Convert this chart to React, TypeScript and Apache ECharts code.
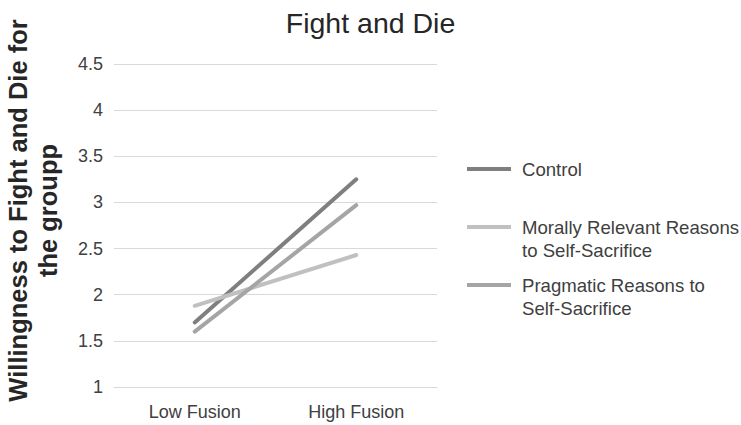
import React, { useEffect, useRef } from "react";
import * as echarts from "echarts";

const categories = ["Low Fusion", "High Fusion"];
const seriesNames = [
  "Control",
  "Morally Relevant Reasons to Self-Sacrifice",
  "Pragmatic Reasons to Self-Sacrifice",
];
const legendLabels = [
  "Control",
  "\nMorally Relevant Reasons\nto Self-Sacrifice",
  "\nPragmatic Reasons to\nSelf-Sacrifice",
];
const controlValues = [1.7, 3.25];
const moralValues = [1.88, 2.43];
const pragmaticValues = [1.6, 2.97];
const yMin = 1;
const yMax = 4.5;
const yStep = 0.5;
const seriesColors = ["#7f7f7f", "#c0c0c0", "#a5a5a5"];
const titleText = "Fight and Die";
const yAxisTitle = "Willingness to Fight and Die for\nthe groupp";

const FONT = '"Liberation Sans", Arial, sans-serif';

export default function App() {
  const ref = useRef<HTMLDivElement>(null);
  useEffect(() => {
    if (!ref.current) return;
    const chart = echarts.init(ref.current, undefined, { renderer: "svg" });
    const values = [controlValues, moralValues, pragmaticValues];
    const legendTops = [157.5, 192.5, 250.5];
    const legends = seriesNames.map((name, i) => ({
      data: [name],
      left: 467,
      top: legendTops[i],
      orient: "vertical",
      padding: 0,
      icon: "rect",
      itemWidth: 44,
      itemHeight: 4,
      selectedMode: false,
      formatter: () => legendLabels[i],
      textStyle: {
        fontFamily: FONT,
        fontSize: 18.6,
        color: "#404040",
        lineHeight: 23,
        padding: [0, 0, 0, 6],
      },
    }));
    chart.setOption({
      animation: false,
      backgroundColor: "#ffffff",
      title: {
        text: titleText,
        left: "center",
        top: 3,
        textStyle: { fontFamily: FONT, fontSize: 28.5, fontWeight: "normal", color: "#262626" },
      },
      legend: legends,
      grid: { left: 114, right: 304, top: 64, bottom: 38, outerBoundsMode: "none", containLabel: false },
      xAxis: {
        type: "category",
        data: categories,
        boundaryGap: true,
        axisLine: { show: true, lineStyle: { color: "#d9d9d9", width: 1 } },
        axisTick: { show: false },
        axisLabel: { fontFamily: FONT, fontSize: 18, color: "#404040", margin: 16 },
        splitLine: { show: false },
      },
      yAxis: {
        type: "value",
        min: yMin,
        max: yMax,
        interval: yStep,
        axisLine: { show: false },
        axisTick: { show: false },
        axisLabel: { fontFamily: FONT, fontSize: 18, color: "#404040", margin: 11 },
        splitLine: { show: true, lineStyle: { color: "#d9d9d9", width: 1 } },
        name: yAxisTitle,
        nameLocation: "middle",
        nameRotate: 90,
        nameGap: 51,
        nameTextStyle: {
          fontFamily: FONT,
          fontSize: 25.5,
          fontWeight: "bold",
          color: "#262626",
          lineHeight: 30,
          align: "center",
          padding: [0, 0, 0, 30],
        },
      },
      series: seriesNames.map((name, i) => ({
        name,
        type: "line",
        data: values[i],
        symbol: "none",
        lineStyle: { color: seriesColors[i], width: 4, cap: "round" },
        itemStyle: { color: seriesColors[i] },
      })),
    });
    return () => chart.dispose();
  }, []);
  return (
    <div
      ref={ref}
      style={{ position: "fixed", left: 0, top: 0, width: 741, height: 425 }}
    />
  );
}
